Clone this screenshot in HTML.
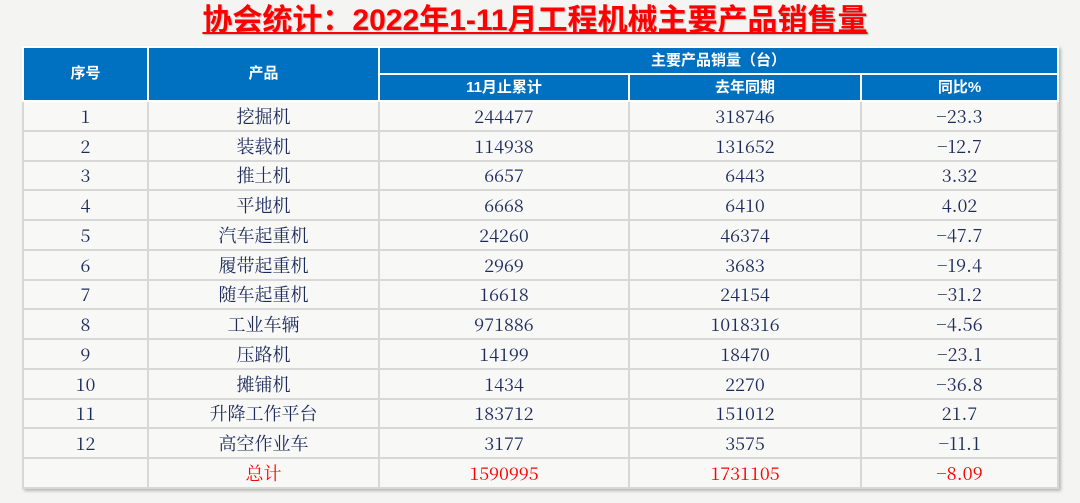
<!DOCTYPE html>
<html><head><meta charset="utf-8"><style>
body{margin:0;width:1080px;height:503px;background:#f4f4f2;overflow:hidden;position:relative;font-family:"Liberation Sans","Noto Sans CJK SC",sans-serif}
.title{position:absolute;left:0;width:1070px;top:2px;text-align:center;color:#f00;font-weight:bold;font-size:30px;line-height:38px;text-decoration:underline;text-decoration-thickness:2px;text-underline-offset:2px;text-shadow:1px 1px 1px rgba(0,0,0,.25)}
table{position:absolute;left:22px;top:46px;width:1035px;border-collapse:collapse;table-layout:fixed;box-shadow:2px 2px 3px rgba(0,0,0,.25)}
th{background:#0070c0;color:#fff;font-weight:bold;font-size:15px;line-height:16px;border:2px solid #fff;padding:0;height:25px}
td{font-family:"Noto Serif CJK SC","Liberation Serif",serif;color:#1d2b5c;font-size:18px;line-height:20px;text-align:center;vertical-align:middle;border:2px solid #d8d8d8;padding:0;height:27.75px;background:rgba(255,255,255,.35)}
tr.t td{color:#f00}
</style></head><body>
<div class="title">协会统计：2022年1-11月工程机械主要产品销售量</div>
<table>
<colgroup><col style="width:125px"><col style="width:231px"><col style="width:250px"><col style="width:232px"><col style="width:197px"></colgroup>
<tr><th rowspan="2" style="height:52px">序号</th><th rowspan="2">产品</th><th colspan="3">主要产品销量（台）</th></tr>
<tr><th>11月止累计</th><th>去年同期</th><th>同比%</th></tr>
<tr><td>1</td><td>挖掘机</td><td>244477</td><td>318746</td><td>−23.3</td></tr>
<tr><td>2</td><td>装载机</td><td>114938</td><td>131652</td><td>−12.7</td></tr>
<tr><td>3</td><td>推土机</td><td>6657</td><td>6443</td><td>3.32</td></tr>
<tr><td>4</td><td>平地机</td><td>6668</td><td>6410</td><td>4.02</td></tr>
<tr><td>5</td><td>汽车起重机</td><td>24260</td><td>46374</td><td>−47.7</td></tr>
<tr><td>6</td><td>履带起重机</td><td>2969</td><td>3683</td><td>−19.4</td></tr>
<tr><td>7</td><td>随车起重机</td><td>16618</td><td>24154</td><td>−31.2</td></tr>
<tr><td>8</td><td>工业车辆</td><td>971886</td><td>1018316</td><td>−4.56</td></tr>
<tr><td>9</td><td>压路机</td><td>14199</td><td>18470</td><td>−23.1</td></tr>
<tr><td>10</td><td>摊铺机</td><td>1434</td><td>2270</td><td>−36.8</td></tr>
<tr><td>11</td><td>升降工作平台</td><td>183712</td><td>151012</td><td>21.7</td></tr>
<tr><td>12</td><td>高空作业车</td><td>3177</td><td>3575</td><td>−11.1</td></tr>
<tr class="t"><td></td><td>总计</td><td>1590995</td><td>1731105</td><td>−8.09</td></tr>
</table>
</body></html>
